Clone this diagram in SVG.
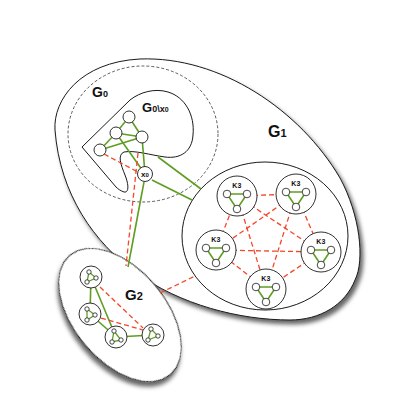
<svg xmlns="http://www.w3.org/2000/svg" width="416" height="406" viewBox="0 0 416 406">
<style>
  .region{fill:#fff;stroke:#1a1a1a;stroke-width:1}
  .dashed{fill:none;stroke:#333;stroke-width:0.8;stroke-dasharray:3,2}
  .g{stroke:#5f9e22;stroke-width:1.6;fill:none}
  .g2{stroke:#5f9e22;stroke-width:1.3;fill:none}
  .r{stroke:#f4472a;stroke-width:1.3;fill:none;stroke-dasharray:5,3}
  .nd{fill:#fff;stroke:#1a1a1a;stroke-width:0.9}
  .sm{fill:#fff;stroke:#1a1a1a;stroke-width:0.8}
  .lab{font-family:"Liberation Sans",Arial,sans-serif;font-weight:bold;fill:#111}
  .k{font-family:"Liberation Sans",Arial,sans-serif;font-weight:bold;font-size:7px;fill:#111;text-anchor:middle;letter-spacing:0.3px}
</style>
<defs>
  <filter id="sh" x="-15%" y="-15%" width="135%" height="135%">
    <feDropShadow dx="3" dy="4" stdDeviation="2.2" flood-color="#000" flood-opacity="0.6"/>
  </filter>
</defs>

<g id="G1">
  <path class="region" filter="url(#sh)" d="M 55,130 C 53,100 80,62 140,59 C 220,56 300,110 340,178 C 360,215 365,260 355,280 C 345,305 320,320 290,320 C 240,320 180,305 135,272 C 95,243 60,195 55,130 Z"/>
  <text class="lab" x="268" y="137" font-size="16">G<tspan font-size="11">1</tspan></text>
</g>
<g id="G0">
  <ellipse class="dashed" cx="143" cy="134" rx="75" ry="68"/>
  <text class="lab" x="92" y="97" font-size="14">G<tspan font-size="9">0</tspan></text>
</g>
<g id="G0x0">
  <path class="region" d="M 82,147 L 130,100 C 140,92 155,88 168,92 C 185,97 195,115 193,135 C 192,152 180,159 165,157 C 150,155 135,150 124,152 C 117,155 121,165 125,175 C 129,185 129,193 124,192 C 121,191 118,189 116,187 Z"/>
  <text class="lab" x="142" y="112" font-size="13">G<tspan font-size="9">0\x</tspan><tspan font-size="7">0</tspan></text>
</g>
<g id="K-cluster">
  <ellipse class="region" cx="265" cy="236" rx="83" ry="74"/>
</g>
<g id="G2">
  <ellipse class="region" filter="url(#sh)" cx="120" cy="315" rx="78" ry="46" transform="rotate(50 120 315)"/>
  <text class="lab" x="125" y="300" font-size="15">G<tspan font-size="11">2</tspan></text>
</g>

<g id="connectors">
  <!-- G0\x0 internal -->
  <line class="g" x1="129" y1="117" x2="116" y2="133"/>
  <line class="g" x1="129" y1="117" x2="142" y2="137"/>
  <line class="g" x1="116" y1="133" x2="142" y2="137"/>
  <line class="g" x1="100" y1="150" x2="116" y2="133"/>
  <line class="g" x1="100" y1="150" x2="142" y2="137"/>
  <line class="g" x1="116" y1="133" x2="145" y2="174"/>
  <line class="g" x1="142" y1="137" x2="145" y2="174"/>
  <line class="r" x1="104" y1="154" x2="138" y2="172"/>
  <!-- to G1 cluster -->
  <line class="g" x1="158" y1="157" x2="201" y2="189"/>
  <line class="g" x1="152" y1="180" x2="192" y2="200"/>
  <!-- to G2 -->
  <line class="r" x1="138" y1="153" x2="126" y2="266"/>
  <line class="g" x1="144" y1="182" x2="128" y2="267"/>
  <line class="r" x1="160" y1="293" x2="195" y2="276"/>
  <!-- K3 complete graph -->
  <line class="r" x1="237" y1="196" x2="296" y2="194"/>
  <line class="r" x1="296" y1="194" x2="321" y2="252"/>
  <line class="r" x1="321" y1="252" x2="266" y2="289"/>
  <line class="r" x1="266" y1="289" x2="216" y2="250"/>
  <line class="r" x1="216" y1="250" x2="237" y2="196"/>
  <line class="r" x1="237" y1="196" x2="321" y2="252"/>
  <line class="r" x1="237" y1="196" x2="266" y2="289"/>
  <line class="r" x1="296" y1="194" x2="216" y2="250"/>
  <line class="r" x1="296" y1="194" x2="266" y2="289"/>
  <line class="r" x1="216" y1="250" x2="321" y2="252"/>
  <!-- G2 internal -->
  <line class="g" x1="91" y1="277" x2="90" y2="314"/>
  <line class="g" x1="91" y1="277" x2="116" y2="337"/>
  <line class="g" x1="90" y1="314" x2="116" y2="337"/>
  <line class="g" x1="116" y1="337" x2="153" y2="335"/>
  <line class="r" x1="100" y1="287" x2="143" y2="328"/>
  <line class="r" x1="101" y1="318" x2="143" y2="330"/>
</g>

<g id="n-T"><circle class="nd" cx="129" cy="117" r="6"/></g>
<g id="n-M"><circle class="nd" cx="116" cy="133" r="6"/></g>
<g id="n-R"><circle class="nd" cx="142" cy="137" r="6"/></g>
<g id="n-L"><circle class="nd" cx="100" cy="150" r="6"/></g>
<g id="x0">
  <circle class="nd" cx="145" cy="174" r="7.5"/>
  <text class="lab" x="145" y="177" font-size="8" text-anchor="middle">x<tspan font-size="6">0</tspan></text>
</g>

<g id="K3-1" transform="translate(237,196)">
  <circle class="nd" r="20"/>
  <text class="k" y="-8">K3</text>
  <path class="g" d="M -10,-2 L 10,-2 L 0,13 Z"/>
  <circle class="sm" cx="-10" cy="-2" r="3.8"/><circle class="sm" cx="10" cy="-2" r="3.8"/><circle class="sm" cx="0" cy="13" r="3.8"/>
</g>
<g id="K3-2" transform="translate(296,194)">
  <circle class="nd" r="20"/>
  <text class="k" y="-8">K3</text>
  <path class="g" d="M -10,-2 L 10,-2 L 0,13 Z"/>
  <circle class="sm" cx="-10" cy="-2" r="3.8"/><circle class="sm" cx="10" cy="-2" r="3.8"/><circle class="sm" cx="0" cy="13" r="3.8"/>
</g>
<g id="K3-3" transform="translate(216,250)">
  <circle class="nd" r="20"/>
  <text class="k" y="-8">K3</text>
  <path class="g" d="M -10,-2 L 10,-2 L 0,13 Z"/>
  <circle class="sm" cx="-10" cy="-2" r="3.8"/><circle class="sm" cx="10" cy="-2" r="3.8"/><circle class="sm" cx="0" cy="13" r="3.8"/>
</g>
<g id="K3-4" transform="translate(321,252)">
  <circle class="nd" r="20"/>
  <text class="k" y="-8">K3</text>
  <path class="g" d="M -10,-2 L 10,-2 L 0,13 Z"/>
  <circle class="sm" cx="-10" cy="-2" r="3.8"/><circle class="sm" cx="10" cy="-2" r="3.8"/><circle class="sm" cx="0" cy="13" r="3.8"/>
</g>
<g id="K3-5" transform="translate(266,289)">
  <circle class="nd" r="20"/>
  <text class="k" y="-8">K3</text>
  <path class="g" d="M -10,-2 L 10,-2 L 0,13 Z"/>
  <circle class="sm" cx="-10" cy="-2" r="3.8"/><circle class="sm" cx="10" cy="-2" r="3.8"/><circle class="sm" cx="0" cy="13" r="3.8"/>
</g>

<g id="G2-A" transform="translate(91,277)">
  <circle class="nd" r="11"/>
  <path class="g2" d="M -2,-5 L 5,1 L -4,5 Z"/>
  <circle class="sm" cx="-2" cy="-5" r="2.2"/><circle class="sm" cx="5" cy="1" r="2.2"/><circle class="sm" cx="-4" cy="5" r="2.2"/>
</g>
<g id="G2-B" transform="translate(90,314)">
  <circle class="nd" r="11"/>
  <path class="g2" d="M -3,-5 L 5,1 L -3,6 Z"/>
  <circle class="sm" cx="-3" cy="-5" r="2.2"/><circle class="sm" cx="5" cy="1" r="2.2"/><circle class="sm" cx="-3" cy="6" r="2.2"/>
</g>
<g id="G2-C" transform="translate(116,337)">
  <circle class="nd" r="11"/>
  <path class="g2" d="M -2,-6 L 5,3 L -4,5 Z"/>
  <circle class="sm" cx="-2" cy="-6" r="2.2"/><circle class="sm" cx="5" cy="3" r="2.2"/><circle class="sm" cx="-4" cy="5" r="2.2"/>
</g>
<g id="G2-D" transform="translate(153,335)">
  <circle class="nd" r="11"/>
  <path class="g2" d="M -2,-6 L 5,1 L -5,5 Z"/>
  <circle class="sm" cx="-2" cy="-6" r="2.2"/><circle class="sm" cx="5" cy="1" r="2.2"/><circle class="sm" cx="-5" cy="5" r="2.2"/>
</g>
</svg>
